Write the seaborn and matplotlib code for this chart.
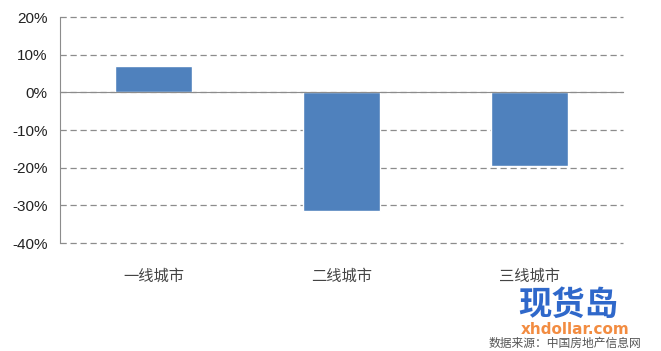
import matplotlib
matplotlib.use("Agg")
import matplotlib.pyplot as plt
import seaborn as sns
import pandas as pd
from matplotlib.ticker import PercentFormatter, MultipleLocator

# 数据
categories = ["一线城市", "二线城市", "三线城市"]
changes = [6.9, -31.6, -19.5]

df = pd.DataFrame({"city": categories, "change": changes})

sns.set_style("white")
plt.rcParams["font.family"] = ["Noto Sans CJK SC", "DejaVu Sans"]
plt.rcParams["axes.unicode_minus"] = False

fig = plt.figure(figsize=(6.61, 3.51), dpi=100)
ax = fig.add_axes([60 / 661, 1 - 243 / 351, 563 / 661, 226 / 351])

sns.barplot(data=df, x="city", y="change", color="#4F81BD", width=0.41,
            saturation=1, ax=ax, zorder=3)

ax.set_ylim(-40, 20)
ax.set_xlim(-0.5, 2.5)
ax.yaxis.set_major_locator(MultipleLocator(10))
ax.yaxis.set_major_formatter(PercentFormatter(decimals=0))
ax.grid(axis="y", color="#8C8C8C", linestyle=(0, (5, 3)), linewidth=0.9, zorder=0)
for gl in ax.get_ygridlines():
    gl.set_clip_on(False)
ax.set_xlabel("")
ax.set_ylabel("")

for s in ["top", "right"]:
    ax.spines[s].set_visible(False)
ax.spines["left"].set_color("#8C8C8C")
ax.spines["bottom"].set_color("#8C8C8C")
ax.spines["bottom"].set_position(("data", 0))
ax.spines["bottom"].set_zorder(4)

# 类别分隔刻度在0线上
ax.set_xticks([0.5, 1.5, 2.5])
ax.set_xticklabels([])
ax.tick_params(axis="x", direction="out", length=6, color="#8C8C8C", width=0.9)
ax.tick_params(axis="y", direction="out", length=5, color="#8C8C8C", width=0.9,
               labelsize=11, labelcolor="#222222", pad=4)
for t in ax.get_yticklabels():
    t.set_family(["Liberation Sans", "DejaVu Sans"])

# 类别标签放在图底部
sec = ax.secondary_xaxis("bottom")
sec.spines["bottom"].set_visible(False)
sec.set_xticks(range(len(categories)))
sec.set_xticklabels(categories)
sec.tick_params(length=0, pad=18, labelsize=11, labelcolor="#444444")

# 水印
fig.text(0.86, 0.13, "现货岛", fontsize=24, fontweight="bold", color="#2460C8",
         ha="center", va="center", alpha=0.95)
fig.text(0.855, 0.022, "数据来源：中国房地产信息网", fontsize=8.5, color="#555555",
         ha="center", va="center")
fig.text(0.87, 0.062, "xhdollar.com", fontsize=11, fontweight="bold", color="#F07820",
         ha="center", va="center", alpha=0.85, family=["DejaVu Sans"])

fig.savefig("out.png", dpi=100)
